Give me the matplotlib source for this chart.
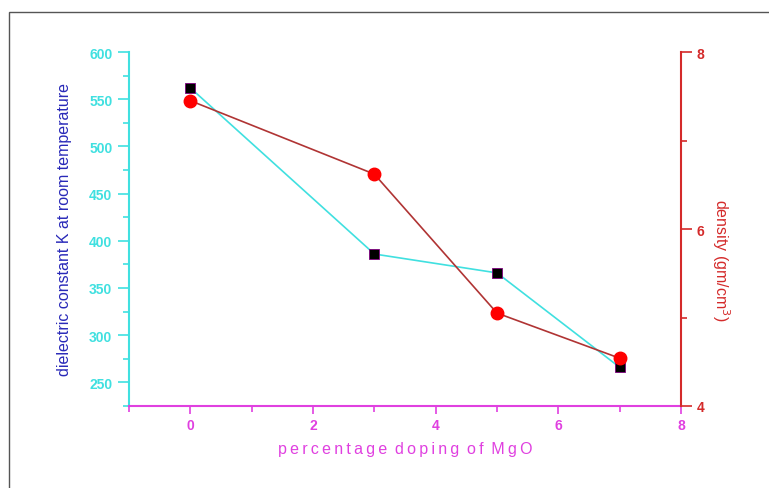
import matplotlib
matplotlib.use('Agg')
import matplotlib.pyplot as plt
from matplotlib.patches import Rectangle
from matplotlib.ticker import MultipleLocator

plt.rcParams['font.family'] = ['Liberation Sans', 'DejaVu Sans']

# MgO doping (%) vs dielectric constant and density
doping = [0, 3, 5, 7]
dielectric = [562, 386, 366, 266]
density = [7.45, 6.62, 5.05, 4.54]

cyan = '#40E0E0'
blue = '#2828B8'
magenta = '#E040E0'
red = '#D42A2A'
darkred = '#B03434'


def spaced(text):
    # loose letter spacing for the axis title
    return ' \u2009'.join('\u2009'.join(word) for word in text.split(' '))


fig = plt.figure(figsize=(7.69, 4.89), dpi=100)
fig.patches.append(Rectangle((9 / 769, -0.1), 1.0, 1 - 13 / 489 + 0.1,
                             transform=fig.transFigure, fill=False,
                             edgecolor='#555555', linewidth=1.0))

ax = fig.add_axes([129 / 769, 82 / 489, 552 / 769, 354 / 489])
ax.plot(doping, dielectric, color=cyan, linewidth=1.2, marker='s',
        markersize=7, markerfacecolor='black', markeredgecolor='#800080',
        markeredgewidth=0.6, zorder=3)
ax.set_xlim(-1, 8)
ax.set_ylim(225, 600)

ax.xaxis.set_major_locator(MultipleLocator(2))
ax.xaxis.set_minor_locator(MultipleLocator(1))
ax.yaxis.set_major_locator(MultipleLocator(50))
ax.yaxis.set_minor_locator(MultipleLocator(25))
ax.set_yticks(range(250, 601, 50))

for side in ('top', 'right'):
    ax.spines[side].set_visible(False)
ax.spines['left'].set_color(cyan)
ax.spines['left'].set_linewidth(1.5)
ax.spines['bottom'].set_color(magenta)
ax.spines['bottom'].set_linewidth(1.5)

ax.tick_params(axis='y', which='both', colors=cyan, direction='out',
               width=1.2, labelsize=10)
ax.tick_params(axis='y', which='major', length=8, pad=4)
ax.tick_params(axis='y', which='minor', length=4)
ax.tick_params(axis='x', which='both', colors=magenta, direction='out',
               width=1.2, labelsize=10)
ax.tick_params(axis='x', which='major', length=6, pad=3)
ax.tick_params(axis='x', which='minor', length=4)
for lbl in ax.get_yticklabels() + ax.get_xticklabels():
    lbl.set_fontweight('bold')

ax.set_ylabel('dielectric constant K at room temperature', color=blue,
              fontsize=11.5, labelpad=12)
ax.set_xlabel(spaced('percentage doping of MgO'), color=magenta,
              fontsize=11.5, labelpad=6)

ax2 = ax.twinx()
ax2.plot(doping, density, color=darkred, linewidth=1.2, marker='o',
         markersize=9, markerfacecolor='red', markeredgecolor='red', zorder=3)
ax2.set_ylim(4, 8)
ax2.yaxis.set_major_locator(MultipleLocator(2))
ax2.yaxis.set_minor_locator(MultipleLocator(1))
for side in ('top', 'left', 'bottom'):
    ax2.spines[side].set_visible(False)
ax2.spines['right'].set_color(red)
ax2.spines['right'].set_linewidth(1.5)
ax2.tick_params(axis='y', which='both', colors=red, direction='out',
                width=1.2, labelsize=10)
ax2.tick_params(axis='y', which='major', length=8, pad=3)
ax2.tick_params(axis='y', which='minor', length=4)
for lbl in ax2.get_yticklabels():
    lbl.set_fontweight('bold')
ax2.set_ylabel('density (gm/cm$^3$)', color=red, fontsize=11.5,
               rotation=270, va='center')
ax2.yaxis.set_label_coords(1.072, 0.415)

fig.savefig('out.png', dpi=100)
